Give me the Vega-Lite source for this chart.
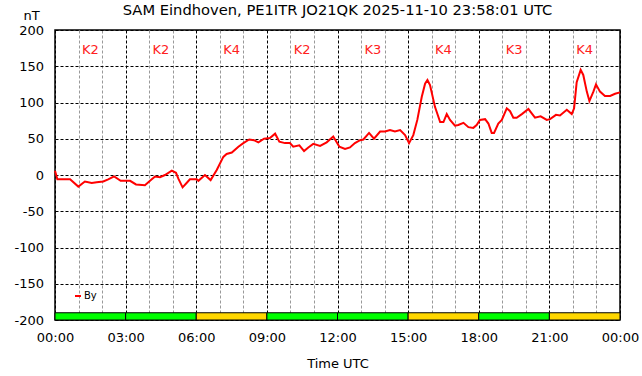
{
  "$schema": "https://vega.github.io/schema/vega-lite/v6.json",
  "autosize": {"type": "none"},
  "width": 565,
  "height": 290,
  "padding": {"left": 55, "top": 30, "right": 22, "bottom": 56},
  "background": "white",
  "config": {
    "font": "DejaVu Sans",
    "view": {"stroke": "black", "strokeWidth": 1.5},
    "axis": {"labelFont": "DejaVu Sans", "titleFont": "DejaVu Sans", "labelFontSize": 13, "titleFontSize": 13, "titleFontWeight": "normal", "labelColor": "black", "titleColor": "black", "labelOverlap": false, "labelFlush": false, "ticks": false, "domain": false, "grid": true, "gridDash": [3, 2], "gridWidth": 1, "gridOpacity": 1}
  },
  "title": {"text": "SAM Eindhoven, PE1ITR JO21QK 2025-11-10 23:58:01 UTC", "anchor": "middle", "frame": "group", "font": "DejaVu Sans", "fontSize": 14.7, "fontWeight": "normal", "color": "black", "offset": 0, "baseline": "middle", "dy": 16.5},
  "datasets": {
    "series": [
      {"hour": 0.0, "By": 6}, {"hour": 0.1, "By": -6}, {"hour": 0.64, "By": -6}, {"hour": 0.99, "By": -16},
      {"hour": 1.27, "By": -9}, {"hour": 1.56, "By": -11}, {"hour": 1.77, "By": -10}, {"hour": 2.05, "By": -9},
      {"hour": 2.26, "By": -6}, {"hour": 2.51, "By": -2}, {"hour": 2.79, "By": -8}, {"hour": 3.19, "By": -8},
      {"hour": 3.44, "By": -13}, {"hour": 3.82, "By": -14}, {"hour": 4.11, "By": -6}, {"hour": 4.25, "By": -2},
      {"hour": 4.46, "By": -3}, {"hour": 4.67, "By": 0}, {"hour": 4.96, "By": 6}, {"hour": 5.14, "By": 3},
      {"hour": 5.24, "By": -5}, {"hour": 5.42, "By": -17}, {"hour": 5.59, "By": -11}, {"hour": 5.73, "By": -6},
      {"hour": 6.02, "By": -6}, {"hour": 6.09, "By": -8}, {"hour": 6.37, "By": 0}, {"hour": 6.61, "By": -7},
      {"hour": 6.87, "By": 7}, {"hour": 7.15, "By": 25}, {"hour": 7.29, "By": 29}, {"hour": 7.51, "By": 31},
      {"hour": 7.79, "By": 39}, {"hour": 8.0, "By": 44}, {"hour": 8.25, "By": 49}, {"hour": 8.45, "By": 48},
      {"hour": 8.64, "By": 45}, {"hour": 8.88, "By": 50}, {"hour": 9.13, "By": 51}, {"hour": 9.35, "By": 57},
      {"hour": 9.53, "By": 46}, {"hour": 9.77, "By": 44}, {"hour": 9.98, "By": 44}, {"hour": 10.12, "By": 39},
      {"hour": 10.38, "By": 41}, {"hour": 10.58, "By": 33}, {"hour": 10.76, "By": 38}, {"hour": 10.97, "By": 43},
      {"hour": 11.26, "By": 40}, {"hour": 11.54, "By": 45}, {"hour": 11.82, "By": 53}, {"hour": 12.08, "By": 39},
      {"hour": 12.32, "By": 36}, {"hour": 12.53, "By": 38}, {"hour": 12.74, "By": 44}, {"hour": 12.96, "By": 48},
      {"hour": 13.1, "By": 49}, {"hour": 13.34, "By": 58}, {"hour": 13.55, "By": 50}, {"hour": 13.81, "By": 60},
      {"hour": 14.02, "By": 60}, {"hour": 14.23, "By": 62}, {"hour": 14.44, "By": 60}, {"hour": 14.66, "By": 62},
      {"hour": 14.87, "By": 55}, {"hour": 15.04, "By": 44}, {"hour": 15.22, "By": 55}, {"hour": 15.39, "By": 76},
      {"hour": 15.58, "By": 108}, {"hour": 15.72, "By": 126}, {"hour": 15.82, "By": 131}, {"hour": 15.93, "By": 124},
      {"hour": 16.14, "By": 94}, {"hour": 16.36, "By": 73}, {"hour": 16.5, "By": 73}, {"hour": 16.64, "By": 84},
      {"hour": 16.78, "By": 76}, {"hour": 16.99, "By": 68}, {"hour": 17.13, "By": 69}, {"hour": 17.35, "By": 72},
      {"hour": 17.56, "By": 66}, {"hour": 17.77, "By": 65}, {"hour": 17.91, "By": 69}, {"hour": 18.05, "By": 76},
      {"hour": 18.27, "By": 77}, {"hour": 18.41, "By": 71}, {"hour": 18.55, "By": 58}, {"hour": 18.65, "By": 58},
      {"hour": 18.83, "By": 71}, {"hour": 18.98, "By": 76}, {"hour": 19.19, "By": 92}, {"hour": 19.33, "By": 88},
      {"hour": 19.47, "By": 79}, {"hour": 19.61, "By": 79}, {"hour": 19.83, "By": 84}, {"hour": 20.11, "By": 91},
      {"hour": 20.25, "By": 85}, {"hour": 20.39, "By": 79}, {"hour": 20.63, "By": 81}, {"hour": 20.89, "By": 76},
      {"hour": 21.03, "By": 77}, {"hour": 21.28, "By": 83}, {"hour": 21.45, "By": 82}, {"hour": 21.74, "By": 90},
      {"hour": 21.95, "By": 84}, {"hour": 22.05, "By": 92}, {"hour": 22.16, "By": 128}, {"hour": 22.33, "By": 145},
      {"hour": 22.44, "By": 138}, {"hour": 22.59, "By": 115}, {"hour": 22.7, "By": 102}, {"hour": 22.87, "By": 115},
      {"hour": 22.98, "By": 125}, {"hour": 23.15, "By": 115}, {"hour": 23.36, "By": 109}, {"hour": 23.58, "By": 109},
      {"hour": 23.79, "By": 112}, {"hour": 24.0, "By": 114}
    ],
    "kindex": [
      {"start": 0, "end": 3, "K": "K2"}, {"start": 3, "end": 6, "K": "K2"},
      {"start": 6, "end": 9, "K": "K4"}, {"start": 9, "end": 12, "K": "K2"},
      {"start": 12, "end": 15, "K": "K3"}, {"start": 15, "end": 18, "K": "K4"},
      {"start": 18, "end": 21, "K": "K3"}, {"start": 21, "end": 24, "K": "K4"}
    ]
  },
  "layer": [
    {
      "data": {"name": "kindex"},
      "mark": {"type": "rect", "stroke": "black", "strokeWidth": 1},
      "encoding": {
        "x": {
          "field": "start", "type": "quantitative",
          "scale": {"domain": [0, 24], "nice": false, "zero": false},
          "axis": {
            "values": [0,1,2,3,4,5,6,7,8,9,10,11,12,13,14,15,16,17,18,19,20,21,22,23,24],
            "labelExpr": "datum.value % 3 === 0 ? ((datum.value % 24) < 10 ? '0' : '') + (datum.value % 24) + ':00' : ''",
            "title": "Time UTC", "labelPadding": 11, "titlePadding": 13,
            "gridColor": {"condition": {"test": "datum.value % 3 === 0", "value": "black"}, "value": "#999999"}
          }
        },
        "x2": {"field": "end"},
        "y": {
          "datum": -200, "type": "quantitative",
          "scale": {"domain": [-200, 200], "nice": false, "zero": false},
          "axis": {
            "values": [-200, -150, -100, -50, 0, 50, 100, 150, 200],
            "labelExpr": "'' + datum.value",
            "title": "nT", "titleAngle": 0, "titleAlign": "center", "titleBaseline": "middle", "titleX": -24, "titleY": -14.5,
            "labelPadding": 11.5, "gridColor": "black"
          }
        },
        "y2": {"datum": -190},
        "fill": {"field": "K", "type": "nominal", "scale": {"domain": ["K2", "K3", "K4"], "range": ["#00ff00", "#00ff00", "#ffd700"]}, "legend": null}
      }
    },
    {
      "data": {"name": "kindex"},
      "transform": [{"calculate": "(datum.start + datum.end) / 2", "as": "mid"}],
      "mark": {"type": "text", "color": "#ff2020", "fontSize": 13, "font": "DejaVu Sans", "baseline": "middle", "align": "center"},
      "encoding": {
        "x": {
          "field": "mid", "type": "quantitative",
          "axis": {
            "values": [0,1,2,3,4,5,6,7,8,9,10,11,12,13,14,15,16,17,18,19,20,21,22,23,24],
            "labelExpr": "datum.value % 3 === 0 ? ((datum.value % 24) < 10 ? '0' : '') + (datum.value % 24) + ':00' : ''",
            "title": "Time UTC", "labelPadding": 11, "titlePadding": 13,
            "gridColor": {"condition": {"test": "datum.value % 3 === 0", "value": "black"}, "value": "#999999"}
          }
        },
        "y": {
          "datum": 173, "type": "quantitative",
          "axis": {
            "values": [-200, -150, -100, -50, 0, 50, 100, 150, 200],
            "labelExpr": "'' + datum.value",
            "title": "nT", "titleAngle": 0, "titleAlign": "center", "titleBaseline": "middle", "titleX": -24, "titleY": -14.5,
            "labelPadding": 11.5, "gridColor": "black"
          }
        },
        "text": {"field": "K", "type": "nominal"}
      }
    },
    {
      "data": {"name": "series"},
      "mark": {"type": "line", "strokeWidth": 2, "interpolate": "linear"},
      "encoding": {
        "x": {
          "field": "hour", "type": "quantitative",
          "axis": {
            "values": [0,1,2,3,4,5,6,7,8,9,10,11,12,13,14,15,16,17,18,19,20,21,22,23,24],
            "labelExpr": "datum.value % 3 === 0 ? ((datum.value % 24) < 10 ? '0' : '') + (datum.value % 24) + ':00' : ''",
            "title": "Time UTC", "labelPadding": 11, "titlePadding": 13,
            "gridColor": {"condition": {"test": "datum.value % 3 === 0", "value": "black"}, "value": "#999999"}
          }
        },
        "y": {
          "field": "By", "type": "quantitative",
          "axis": {
            "values": [-200, -150, -100, -50, 0, 50, 100, 150, 200],
            "labelExpr": "'' + datum.value",
            "title": "nT", "titleAngle": 0, "titleAlign": "center", "titleBaseline": "middle", "titleX": -24, "titleY": -14.5,
            "labelPadding": 11.5, "gridColor": "black"
          }
        },
        "stroke": {
          "datum": "By", "type": "nominal",
          "scale": {"domain": ["By"], "range": ["#ff0000"]},
          "legend": {"orient": "none", "legendX": 18, "legendY": 261, "title": null, "symbolType": "stroke", "symbolSize": 36, "symbolStrokeWidth": 2, "labelFontSize": 10, "labelFont": "DejaVu Sans", "labelColor": "black", "padding": 0, "labelOffset": 1}
        }
      }
    }
  ]
}
